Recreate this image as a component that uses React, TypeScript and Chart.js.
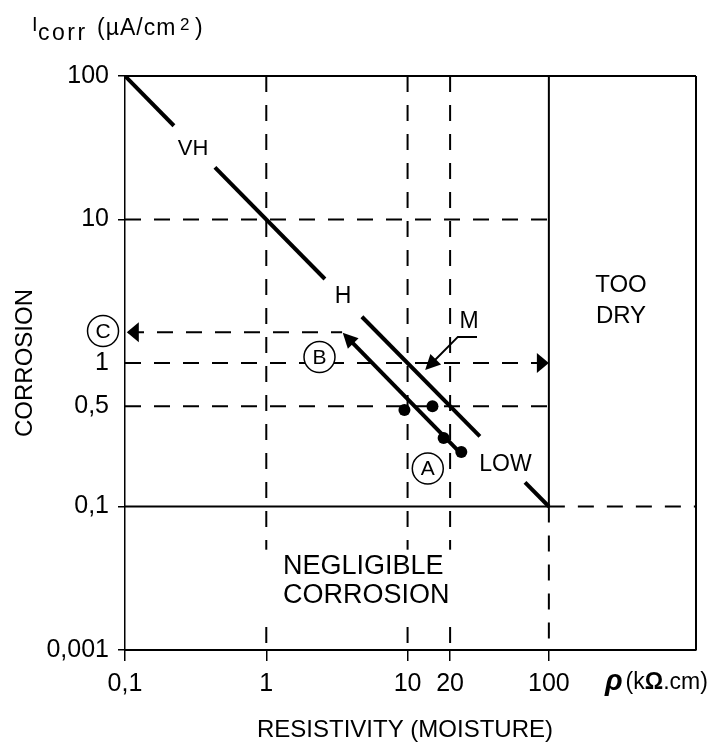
import React, { useEffect, useRef } from "react";
import { Chart, registerables } from "chart.js";

Chart.register(...registerables);

const FONT = "'Liberation Sans', Arial, Helvetica, sans-serif";

// axis ticks
const xTickValues = [0.1, 1, 10, 20, 100];
const xTickLabels = ["0,1", "1", "10", "20", "100"];
const yTickValues = [0.01, 0.1, 0.5, 1, 10, 100];
const yTickLabels = ["0,001", "0,1", "0,5", "1", "10", "100"];
const xMin = 0.1;
const xMax = 1100;
const yMin = 0.01;
const yMax = 100;

// main corrosion-level line (Icorr = 10 / rho), broken for labels
const vhSegA = [{ x: 0.1, y: 100 }, { x: 0.222, y: 45 }];
const vhSegB = [{ x: 0.433, y: 23.1 }, { x: 2.6, y: 3.85 }];
const mSeg = [{ x: 4.75, y: 2.1 }, { x: 32.5, y: 0.308 }];
const lowSeg = [{ x: 67.8, y: 0.1475 }, { x: 100, y: 0.1 }];
// arrow B (shaft, head drawn at first point)
const bArrow = [{ x: 3.94, y: 1.43 }, { x: 23.5, y: 0.237 }];
// measured points
const measured = [
  { x: 9.5, y: 0.47 },
  { x: 15, y: 0.5 },
  { x: 18, y: 0.3 },
  { x: 24, y: 0.24 },
];

// guide lines: [value, from, to]
const dashedV = [
  [1, 0.01, 100],
  [10, 0.01, 100],
  [20, 0.01, 100],
  [100, 0.01, 0.1],
];
const solidV = [
  [100, 0.1, 100],
  [1100, 0.01, 100],
];
const dashedH = [
  [10, 0.1, 100],
  [1, 0.1, 100],
  [0.5, 0.1, 100],
  [0.1, 100, 1100],
  [1.64, 0.105, 3.44],
];
const solidH = [
  [100, 0.1, 1100],
  [0.1, 0.1, 100],
];
// M leader line
const mLeader = [
  { x: 31, y: 1.52 },
  { x: 22.7, y: 1.52 },
  { x: 14.6, y: 0.98 },
];

// in-plot labels [text, x, y, size]
const plotLabels: [string, number, number, number][] = [
  ["VH", 0.303, 30.8, 22],
  ["H", 3.49, 2.88, 23],
  ["M", 27.2, 1.93, 23],
  ["LOW", 49.3, 0.195, 23],
  ["TOO", 324, 3.49, 24],
  ["DRY", 324, 2.12, 24],
];
const negligibleLines = ["NEGLIGIBLE", "CORROSION"];
const circled: [string, number, number][] = [
  ["A", 13.9, 0.184],
  ["B", 2.38, 1.1],
  ["C", 0.0699, 1.67],
];

function arrowHead(ctx: CanvasRenderingContext2D, tx: number, ty: number, fx: number, fy: number, len: number, hw: number) {
  const dx = tx - fx;
  const dy = ty - fy;
  const d = Math.hypot(dx, dy) || 1;
  const ux = dx / d;
  const uy = dy / d;
  const bx = tx - ux * len;
  const by = ty - uy * len;
  ctx.beginPath();
  ctx.moveTo(tx, ty);
  ctx.lineTo(bx - uy * hw, by + ux * hw);
  ctx.lineTo(bx + uy * hw, by - ux * hw);
  ctx.closePath();
  ctx.fill();
}

const overlay = {
  id: "overlay",
  beforeDatasetsDraw(chart: any) {
    const ctx: CanvasRenderingContext2D = chart.ctx;
    const xs = chart.scales.x;
    const ys = chart.scales.y;
    const X = (v: number) => xs.getPixelForValue(v);
    const Y = (v: number) => ys.getPixelForValue(v);
    ctx.save();
    ctx.strokeStyle = "#000";
    ctx.lineCap = "butt";
    // dashed
    ctx.lineWidth = 2;
    ctx.setLineDash([16, 13]);
    dashedV.forEach(([v, a, b]) => {
      ctx.beginPath();
      ctx.moveTo(X(v), Y(b));
      ctx.lineTo(X(v), Y(a));
      ctx.stroke();
    });
    dashedH.forEach(([v, a, b]) => {
      ctx.beginPath();
      ctx.moveTo(X(a), Y(v));
      ctx.lineTo(X(b), Y(v));
      ctx.stroke();
    });
    ctx.setLineDash([]);
    // solid
    ctx.lineWidth = 2;
    solidV.forEach(([v, a, b]) => {
      ctx.beginPath();
      ctx.moveTo(X(v), Y(b));
      ctx.lineTo(X(v), Y(a));
      ctx.stroke();
    });
    solidH.forEach(([v, a, b]) => {
      ctx.beginPath();
      ctx.moveTo(X(a), Y(v));
      ctx.lineTo(X(b), Y(v));
      ctx.stroke();
    });
    // white background behind the "negligible corrosion" note
    ctx.fillStyle = "#fff";
    const bx0 = X(0.92), bx1 = X(22.5), by0 = Y(0.05), by1 = Y(0.0155);
    ctx.fillRect(bx0, by0, bx1 - bx0, by1 - by0);
    ctx.restore();
  },
  afterDatasetsDraw(chart: any) {
    const ctx: CanvasRenderingContext2D = chart.ctx;
    const xs = chart.scales.x;
    const ys = chart.scales.y;
    const X = (v: number) => xs.getPixelForValue(v);
    const Y = (v: number) => ys.getPixelForValue(v);
    ctx.save();
    ctx.fillStyle = "#000";
    ctx.strokeStyle = "#000";

    // arrow B head
    {
      const p0 = { x: X(bArrow[0].x), y: Y(bArrow[0].y) };
      const p1 = { x: X(bArrow[1].x), y: Y(bArrow[1].y) };
      const d = Math.hypot(p0.x - p1.x, p0.y - p1.y);
      const ux = (p0.x - p1.x) / d;
      const uy = (p0.y - p1.y) / d;
      arrowHead(ctx, p0.x + ux * 11, p0.y + uy * 11, p1.x, p1.y, 15, 7.5);
    }
    // arrow on 1 line (right) and C line (left)
    arrowHead(ctx, X(100), Y(1), X(50), Y(1), 12, 10);
    arrowHead(ctx, X(0.103), Y(1.64), X(1), Y(1.64), 12, 10);
    // M leader
    ctx.lineWidth = 2;
    ctx.beginPath();
    ctx.moveTo(X(mLeader[0].x), Y(mLeader[0].y));
    ctx.lineTo(X(mLeader[1].x), Y(mLeader[1].y));
    ctx.lineTo(X(mLeader[2].x), Y(mLeader[2].y));
    ctx.stroke();
    {
      const fx = X(mLeader[1].x), fy = Y(mLeader[1].y);
      const tx0 = X(mLeader[2].x), ty0 = Y(mLeader[2].y);
      const d = Math.hypot(tx0 - fx, ty0 - fy);
      const ux = (tx0 - fx) / d, uy = (ty0 - fy) / d;
      arrowHead(ctx, tx0 + ux * 8, ty0 + uy * 8, fx, fy, 15, 7.5);
    }

    // plot labels
    ctx.textAlign = "center";
    ctx.textBaseline = "middle";
    plotLabels.forEach(([t, x, y, s]) => {
      ctx.font = `${s}px ${FONT}`;
      ctx.fillText(t, X(x), Y(y));
    });
    ctx.textAlign = "left";
    ctx.font = `27px ${FONT}`;
    ctx.fillText(negligibleLines[0], X(1.313), Y(0.038));
    ctx.fillText(negligibleLines[1], X(1.313), Y(0.0239));

    // circled letters
    circled.forEach(([t, x, y]) => {
      const cx = X(x), cy = Y(y);
      ctx.lineWidth = 1.5;
      ctx.beginPath();
      ctx.arc(cx, cy, 15.5, 0, Math.PI * 2);
      ctx.fillStyle = "#fff";
      ctx.fill();
      ctx.stroke();
      ctx.fillStyle = "#000";
      ctx.font = `21px ${FONT}`;
      ctx.textAlign = "center";
      ctx.textBaseline = "middle";
      ctx.fillText(t, cx, cy + 1);
    });

    // y-axis title (vertical)
    ctx.save();
    ctx.translate(25, (chart.chartArea.top + chart.chartArea.bottom) / 2);
    ctx.rotate(-Math.PI / 2);
    ctx.font = `24px ${FONT}`;
    ctx.textAlign = "center";
    ctx.textBaseline = "middle";
    ctx.fillText("CORROSION", 0, 0);
    ctx.restore();

    // x-axis title
    ctx.font = `24px ${FONT}`;
    ctx.textAlign = "center";
    ctx.textBaseline = "alphabetic";
    ctx.fillText("RESISTIVITY (MOISTURE)", 405, 737);

    // unit label rho (kOhm.cm)
    ctx.textAlign = "left";
    let ux = 605;
    ctx.font = `italic bold 29px ${FONT}`;
    ctx.fillText("ρ", ux, 690);
    ux += ctx.measureText("ρ").width + 3;
    ctx.font = `23px ${FONT}`;
    ctx.fillText("(k", ux, 689);
    ux += ctx.measureText("(k").width;
    ctx.font = `bold 23px ${FONT}`;
    ctx.fillText("Ω", ux, 689);
    ux += ctx.measureText("Ω").width;
    ctx.font = `23px ${FONT}`;
    ctx.fillText(".cm)", ux, 689);

    // y unit title: Icorr (µA/cm²)
    ctx.font = `20px ${FONT}`;
    ctx.fillText("I", 32, 31);
    (ctx as any).letterSpacing = "2.5px";
    ctx.font = `23px ${FONT}`;
    ctx.fillText("corr", 38, 40);
    (ctx as any).letterSpacing = "1px";
    ctx.fillText("(µA/cm", 97, 35);
    (ctx as any).letterSpacing = "0px";
    ctx.font = `17px ${FONT}`;
    ctx.fillText("2", 180, 30);
    ctx.font = `23px ${FONT}`;
    ctx.fillText(")", 195, 35);

    ctx.restore();
  },
};

export default function App() {
  const ref = useRef<HTMLCanvasElement | null>(null);
  useEffect(() => {
    if (!ref.current) return;
    const lineDs = (data: { x: number; y: number }[]) => ({
      data,
      showLine: true,
      borderColor: "#000",
      backgroundColor: "#000",
      borderWidth: 4,
      pointRadius: 0,
      borderCapStyle: "butt" as const,
    });
    const chart = new Chart(ref.current, {
      type: "scatter",
      data: {
        datasets: [
          lineDs(vhSegA),
          lineDs(vhSegB),
          lineDs(mSeg),
          lineDs(lowSeg),
          lineDs(bArrow),
          {
            data: measured,
            showLine: false,
            pointRadius: 6,
            pointBackgroundColor: "#000",
            pointBorderWidth: 0,
            borderColor: "#000",
            backgroundColor: "#000",
          },
        ],
      },
      options: {
        animation: false,
        responsive: false,
        devicePixelRatio: 1,
        layout: { padding: { top: 76, right: 23, left: 0, bottom: 0 } },
        plugins: { legend: { display: false }, tooltip: { enabled: false }, title: { display: false } },
        scales: {
          x: {
            type: "logarithmic",
            min: xMin,
            max: xMax,
            afterBuildTicks: (s: any) => {
              s.ticks = xTickValues.map((v) => ({ value: v }));
            },
            afterFit: (s: any) => {
              s.height = 92;
            },
            ticks: {
              autoSkip: false,
              maxRotation: 0,
              color: "#000",
              padding: 8,
              font: { family: FONT, size: 25 },
              callback: (v: any) => {
                const i = xTickValues.findIndex((t) => Math.abs(t - Number(v)) < 1e-9);
                return i >= 0 ? xTickLabels[i] : "";
              },
            },
            grid: { drawOnChartArea: false, drawTicks: true, tickLength: 11, color: "#000", lineWidth: 1.5 },
            border: { display: true, color: "#000", width: 2 },
          },
          y: {
            type: "logarithmic",
            min: yMin,
            max: yMax,
            afterBuildTicks: (s: any) => {
              s.ticks = yTickValues.map((v) => ({ value: v }));
            },
            afterFit: (s: any) => {
              s.width = 125;
            },
            ticks: {
              autoSkip: false,
              color: "#000",
              padding: 9,
              font: { family: FONT, size: 25 },
              callback: (v: any) => {
                const i = yTickValues.findIndex((t) => Math.abs(t - Number(v)) < 1e-9);
                return i >= 0 ? yTickLabels[i] : "";
              },
            },
            grid: {
              drawOnChartArea: false,
              drawTicks: true,
              tickLength: 7,
              lineWidth: 1.5,
              color: (c: any) =>
                c.tick && (c.tick.value === 1 || c.tick.value === 0.5) ? "rgba(0,0,0,0)" : "#000",
            },
            border: { display: true, color: "#000", width: 1.5 },
          },
        },
      },
      plugins: [overlay],
    });
    return () => chart.destroy();
  }, []);
  return (
    <div style={{ position: "fixed", left: 0, top: 0, width: 719, height: 742, background: "#fff" }}>
      <canvas ref={ref} width={719} height={742} style={{ display: "block" }} />
    </div>
  );
}
